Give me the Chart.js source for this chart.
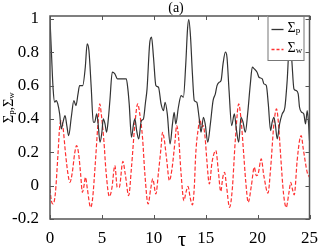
<!DOCTYPE html>
<html>
<head>
<meta charset="utf-8">
<script src="https://cdn.jsdelivr.net/npm/chart.js@4.4.1/dist/chart.umd.min.js"></script>
<style>
  html, body { margin: 0; padding: 0; background: #fff; }
  canvas { display: block; }
</style>
</head>
<body>
<canvas id="chart" width="319" height="249"></canvas>
<script>
/* ------------------------------- Data -------------------------------*/

var xTicks = [0, 5, 10, 15, 20, 25];
var yTicks = [-0.2, 0, 0.2, 0.4, 0.6, 0.8, 1];

// Σp (black solid)
var tauP = [0, 0.15, 0.3, 0.45, 0.6, 0.75, 0.93, 1.09, 1.25, 1.45, 1.62, 1.8, 2.05, 2.3, 2.5, 2.7,
    2.85, 3.15, 3.4, 3.58, 3.75, 3.97, 4.17, 4.3, 4.5, 4.62, 4.82, 5.0, 5.13, 5.3, 5.45, 5.62,
    5.77, 6.0, 6.25, 6.5, 7.0, 7.35, 7.5, 7.63, 7.85, 8.05, 8.18, 8.35, 8.55, 8.8, 9.0, 9.2,
    9.35, 9.6, 9.78, 9.97, 10.2, 10.45, 10.7, 10.93, 11.09, 11.3, 11.57, 11.8, 11.96, 12.12,
    12.37, 12.63, 12.85, 13.08, 13.25, 13.37, 13.53, 13.72, 13.9, 14.14, 14.36, 14.55, 14.78,
    14.95, 15.2, 15.45, 15.71, 15.93, 16.09, 16.3, 16.48, 16.67, 16.9, 17.05, 17.25, 17.5,
    17.76, 17.95, 18.18, 18.4, 18.6, 18.82, 19.04, 19.3, 19.49, 19.68, 19.95, 20.13, 20.45,
    20.61, 20.84, 21.03, 21.25, 21.4, 21.57, 21.72, 21.89, 22.12, 22.37, 22.63, 22.85, 23.05,
    23.27, 23.5, 23.72, 23.91, 24.04, 24.25, 24.45, 24.62, 24.78, 24.9, 25.0];
var sigmaP = [1.0, 0.78, 0.58, 0.50, 0.51, 0.49, 0.43, 0.34, 0.38, 0.42, 0.36, 0.30, 0.41, 0.51, 0.48, 0.55,
    0.60, 0.60, 0.71, 0.85, 0.81, 0.59, 0.38, 0.38, 0.43, 0.38, 0.26, 0.32, 0.40, 0.37, 0.32, 0.40,
    0.51, 0.68, 0.67, 0.64, 0.64, 0.64, 0.58, 0.49, 0.29, 0.37, 0.40, 0.33, 0.28, 0.39, 0.40, 0.50,
    0.58, 0.85, 0.89, 0.77, 0.60, 0.59, 0.49, 0.45, 0.50, 0.43, 0.25, 0.37, 0.44, 0.37,
    0.47, 0.54, 0.53, 0.73, 0.94, 0.995, 0.90, 0.67, 0.51, 0.50, 0.41, 0.32, 0.41,
    0.37, 0.26, 0.37, 0.51, 0.55, 0.60, 0.62, 0.63, 0.73, 0.80, 0.77, 0.57, 0.36,
    0.43, 0.34, 0.26, 0.41, 0.38, 0.32, 0.43, 0.61, 0.71, 0.70, 0.68, 0.65, 0.64,
    0.61, 0.60, 0.49, 0.33, 0.38, 0.41, 0.36, 0.28, 0.37, 0.43, 0.47, 0.63, 0.83,
    0.77, 0.58, 0.57, 0.55, 0.47, 0.44, 0.43, 0.37, 0.45, 0.38, 0.27];

// Σw (red dashed)
var tauW = [0, 0.13, 0.29, 0.51, 0.77, 0.93, 1.09, 1.25, 1.5, 1.73, 1.92, 2.15, 2.37, 2.56, 2.76, 2.95,
    3.12, 3.25, 3.42, 3.6, 3.91, 4.1, 4.36, 4.62, 4.8, 4.94, 5.19, 5.39, 5.72, 5.95, 6.25, 6.48,
    6.67, 7.02, 7.25, 7.58, 7.85, 8.18, 8.45, 8.65, 8.91, 9.14, 9.45, 9.7, 9.9, 10.2, 10.45,
    10.7, 10.84, 11.0, 11.25, 11.5, 11.75, 12.05, 12.2, 12.4, 12.63, 12.9, 13.1, 13.3, 13.5,
    13.72, 13.9, 14.04, 14.3, 14.45, 14.6, 14.75, 14.94, 15.1, 15.35, 15.61, 15.98, 16.2, 16.45,
    16.65, 16.82, 17.0, 17.3, 17.55, 17.85, 18.18, 18.4, 18.66, 18.85, 19.1, 19.4, 19.68, 19.88,
    20.05, 20.35, 20.6, 21.0, 21.25, 21.57, 21.82, 22.0, 22.21, 22.5, 22.76, 23.0, 23.2, 23.35,
    23.53, 23.81, 24.04, 24.2, 24.4, 24.78, 25.0];
var sigmaW = [-0.02, -0.09, -0.11, -0.05, 0.19, 0.35, 0.39, 0.35, 0.19, 0.07, 0.02, 0.08, 0.19, 0.24, 0.19, 0.07,
    -0.04, -0.01, 0.05, -0.02, -0.13, -0.08, 0.13, 0.37, 0.49, 0.43, 0.27, 0.09, -0.065, -0.02, 0.12, -0.01,
    -0.01, 0.145, 0.07, -0.06, 0.11, 0.37, 0.49, 0.43, 0.29, 0.07, -0.11, -0.02, 0.04, -0.05, 0.08,
    0.23, 0.32, 0.28, 0.15, 0.03, 0.10, 0.27, 0.36, 0.28, 0.07, -0.09, -0.04, -0.005, -0.07,
    -0.115, -0.01, 0.19, 0.35, 0.40, 0.35, 0.36, 0.29, 0.16, 0.01, 0.14, 0.21, 0.10, -0.035,
    0.05, 0.08, 0.0, -0.13, -0.03, 0.27, 0.49, 0.40, 0.19, 0.03, -0.10, 0.0, 0.11, 0.06,
    0.07, 0.16, 0.06, -0.045, 0.10, 0.37, 0.46, 0.38, 0.19, -0.05, -0.13, -0.05, 0.02, -0.02,
    -0.055, 0.15, 0.27, 0.30, 0.22, 0.08, 0.05];

var SERIF = "'Liberation Serif', 'DejaVu Serif', serif";

function toPoints(xs, ys) {
    var pts = [];
    for (let i = 0; i < xs.length; i++) pts.push({ x: xs[i], y: ys[i] });
    return pts;
}

// "Σ" with a subscript letter, drawn from (x, y); returns the new x
function drawSigma(ctx, x, y, sub) {
    ctx.font = "14px " + SERIF;
    ctx.fillText("Σ", x, y);
    x += ctx.measureText("Σ").width;
    ctx.font = "9px " + SERIF;
    ctx.fillText(sub, x, y + 3);
    return x + ctx.measureText(sub).width;
}

/* ------------------------------- Frame, ticks, titles, legend -------------------------------*/

var framePlugin = {
    id: 'frame',
    afterDraw: function (chart) {
        var ctx = chart.ctx;
        var a = chart.chartArea;
        var xs = chart.scales.x, ys = chart.scales.y;
        var tl = 4;

        ctx.save();
        ctx.strokeStyle = '#555';
        ctx.lineWidth = 1.5;
        ctx.strokeRect(a.left, a.top, a.right - a.left, a.bottom - a.top);

        ctx.lineWidth = 1;
        ctx.beginPath();
        xTicks.forEach(function (v) {
            var px = Math.round(xs.getPixelForValue(v)) + 0.5;
            ctx.moveTo(px, a.bottom); ctx.lineTo(px, a.bottom - tl);
            ctx.moveTo(px, a.top); ctx.lineTo(px, a.top + tl);
        });
        yTicks.forEach(function (v) {
            var py = Math.round(ys.getPixelForValue(v)) + 0.5;
            ctx.moveTo(a.left, py); ctx.lineTo(a.left + tl, py);
            ctx.moveTo(a.right, py); ctx.lineTo(a.right - tl, py);
        });
        ctx.stroke();

        // legend box (upper right, inside the plot)
        var bx = a.right - 42, by = a.top, bw = 36, bh = 44;
        ctx.fillStyle = '#fff';
        ctx.fillRect(bx, by, bw, bh);
        ctx.strokeStyle = '#777';
        ctx.lineWidth = 1;
        ctx.strokeRect(bx + 0.5, by + 0.5, bw, bh);

        ctx.lineWidth = 1.3;
        ctx.strokeStyle = '#333';
        ctx.beginPath(); ctx.moveTo(bx + 4, by + 13.5); ctx.lineTo(bx + 16, by + 13.5); ctx.stroke();
        ctx.strokeStyle = '#ff3030';
        ctx.setLineDash([3, 2]);
        ctx.beginPath(); ctx.moveTo(bx + 4, by + 33.5); ctx.lineTo(bx + 16, by + 33.5); ctx.stroke();
        ctx.setLineDash([]);

        ctx.fillStyle = '#000';
        ctx.textBaseline = 'middle';
        ctx.textAlign = 'left';
        drawSigma(ctx, bx + 20, by + 12, chart.data.datasets[0].label.slice(1));
        drawSigma(ctx, bx + 20, by + 32, chart.data.datasets[1].label.slice(1));

        // title "(a)"
        ctx.textAlign = 'center';
        ctx.font = "14px " + SERIF;
        ctx.fillText("(a)", 176, 8);

        // x axis title
        ctx.font = "21px " + SERIF;
        ctx.fillText("τ", 182, 240);

        // y axis title, rotated
        ctx.translate(9, 104);
        ctx.rotate(-Math.PI / 2);
        ctx.textAlign = 'left';
        var x = -19;
        x = drawSigma(ctx, x, 0, "p");
        ctx.font = "14px " + SERIF;
        ctx.fillText(",", x, 0);
        x += ctx.measureText(",").width;
        drawSigma(ctx, x, 0, "w");
        ctx.restore();
    }
};

/* ------------------------------- Chart -------------------------------*/

var tickFont = { family: SERIF, size: 17 };

new Chart(document.getElementById('chart').getContext('2d'), {
    type: 'line',
    data: {
        datasets: [{
            label: 'Σp',
            data: toPoints(tauP, sigmaP),
            borderColor: '#333',
            borderWidth: 1.2,
            pointRadius: 0,
            cubicInterpolationMode: 'monotone'
        }, {
            label: 'Σw',
            data: toPoints(tauW, sigmaW),
            borderColor: '#ff3030',
            borderWidth: 1.2,
            borderDash: [4, 2],
            pointRadius: 0,
            cubicInterpolationMode: 'monotone'
        }]
    },
    options: {
        responsive: false,
        animation: false,
        devicePixelRatio: 1,
        layout: { padding: { top: 16, right: 9, left: 0, bottom: 0 } },
        plugins: {
            legend: { display: false },
            tooltip: { enabled: false }
        },
        scales: {
            x: {
                type: 'linear',
                min: 0,
                max: 25,
                grid: { display: false },
                border: { display: false },
                ticks: { font: tickFont, color: '#000', padding: 1, maxRotation: 0 },
                afterBuildTicks: function (s) { s.ticks = xTicks.map(v => ({ value: v })); },
                afterFit: function (s) { s.height = 30; }
            },
            y: {
                type: 'linear',
                min: -0.2,
                max: 1.017,
                grid: { display: false },
                border: { display: false },
                ticks: {
                    font: tickFont, color: '#000', padding: 3,
                    callback: function (v) { return String(Math.round(v * 10) / 10); }
                },
                afterBuildTicks: function (s) { s.ticks = yTicks.map(v => ({ value: v })); },
                afterFit: function (s) { s.width = 50; }
            }
        }
    },
    plugins: [framePlugin]
});
</script>
</body>
</html>
